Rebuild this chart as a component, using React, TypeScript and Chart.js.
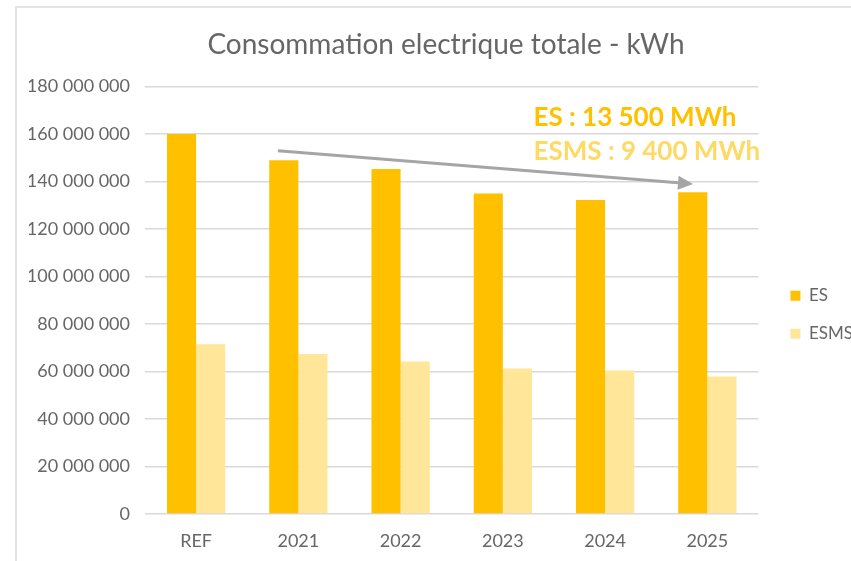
import React, { useEffect, useRef } from "react";
import { Chart, registerables } from "chart.js";

Chart.register(...registerables);

const categories = ["REF", "2021", "2022", "2023", "2024", "2025"];
const esValues = [160000000, 149000000, 145300000, 135000000, 132200000, 135500000];
const esmsValues = [71500000, 67400000, 64200000, 61300000, 60400000, 57900000];
const seriesNames = ["ES", "ESMS"];
const titleText = "Consommation electrique totale - kWh";
const yMin = 0;
const yMax = 180000000;
const yStep = 20000000;
const annotationLines = ["ES : 13 500 MWh", "ESMS : 9 400 MWh"];
const annotationX = 3.3;
const annotationY = [167000000, 152600000];
const arrowFrom = { x: 0.8, y: 153000000 };
const arrowTo = { x: 4.86, y: 139000000 };

const ES_COLOR = "#FFC000";
const ESMS_COLOR = "#FFE699";
const ESMS_TEXT = "#FFD966";
const TEXT_GRAY = "#666666";
const GRID_GRAY = "#D9D9D9";
const FONT = "Lato, 'Open Sans', sans-serif";

function fmt(v: number): string {
  return String(Math.round(v)).replace(/\B(?=(\d{3})+(?!\d))/g, " ");
}

const framePlugin = {
  id: "frame",
  beforeDraw(chart: any) {
    const ctx = chart.ctx;
    ctx.save();
    ctx.fillStyle = "#ffffff";
    ctx.fillRect(0, 0, chart.width, chart.height);
    ctx.strokeStyle = "#E3E3E3";
    ctx.lineWidth = 2;
    ctx.beginPath();
    ctx.moveTo(16, chart.height + 5);
    ctx.lineTo(16, 7);
    ctx.lineTo(chart.width + 5, 7);
    ctx.stroke();
    ctx.restore();
  },
};

const annotationPlugin = {
  id: "annot",
  afterDatasetsDraw(chart: any) {
    const ctx = chart.ctx;
    const xs = chart.scales.x;
    const ys = chart.scales.y;
    ctx.save();
    const x1 = xs.getPixelForValue(arrowFrom.x);
    const y1 = ys.getPixelForValue(arrowFrom.y);
    const x2 = xs.getPixelForValue(arrowTo.x);
    const y2 = ys.getPixelForValue(arrowTo.y);
    const ang = Math.atan2(y2 - y1, x2 - x1);
    const head = 15;
    const hw = 7;
    const bx = x2 - head * Math.cos(ang);
    const by = y2 - head * Math.sin(ang);
    ctx.strokeStyle = "#A5A5A5";
    ctx.fillStyle = "#A5A5A5";
    ctx.lineWidth = 3;
    ctx.beginPath();
    ctx.moveTo(x1, y1);
    ctx.lineTo(bx, by);
    ctx.stroke();
    ctx.beginPath();
    ctx.moveTo(x2, y2);
    ctx.lineTo(bx + hw * Math.sin(ang), by - hw * Math.cos(ang));
    ctx.lineTo(bx - hw * Math.sin(ang), by + hw * Math.cos(ang));
    ctx.closePath();
    ctx.fill();
    ctx.font = "bold 26px " + FONT;
    ctx.textAlign = "left";
    ctx.textBaseline = "middle";
    const tx = xs.getPixelForValue(annotationX);
    ctx.fillStyle = ES_COLOR;
    ctx.fillText(annotationLines[0], tx, ys.getPixelForValue(annotationY[0]));
    ctx.fillStyle = ESMS_TEXT;
    ctx.fillText(annotationLines[1], tx, ys.getPixelForValue(annotationY[1]));
    ctx.restore();
  },
};

export default function App() {
  const ref = useRef<HTMLCanvasElement | null>(null);
  useEffect(() => {
    if (!ref.current) return;
    const chart = new Chart(ref.current, {
      type: "bar",
      data: {
        labels: categories,
        datasets: [
          { label: seriesNames[0], data: esValues, backgroundColor: ES_COLOR, borderWidth: 0 },
          { label: seriesNames[1], data: esmsValues, backgroundColor: ESMS_COLOR, borderWidth: 0 },
        ],
      },
      options: {
        responsive: false,
        animation: false,
        devicePixelRatio: 1,
        layout: { padding: { left: 29, right: -12, top: 0, bottom: 0 } },
        datasets: { bar: { categoryPercentage: 0.57, barPercentage: 1.0 } },
        plugins: {
          title: {
            display: true,
            text: titleText,
            color: TEXT_GRAY,
            font: { family: FONT, size: 28, weight: "normal" },
            padding: { top: 28, bottom: 25 },
          },
          legend: {
            display: true,
            position: "right",
            align: "center",
            title: { display: true, text: " ", padding: 27, font: { size: 12 } },
            labels: {
              boxWidth: 10,
              boxHeight: 10,
              padding: 21,
              color: TEXT_GRAY,
              font: { family: FONT, size: 17 },
            },
          },
          tooltip: { enabled: false },
        },
        scales: {
          x: {
            grid: { display: false, drawTicks: false },
            border: { display: false },
            ticks: { color: TEXT_GRAY, font: { family: FONT, size: 18 }, padding: 16 },
            afterFit(s: any) {
              s.height = 47;
            },
          },
          y: {
            min: yMin,
            max: yMax,
            grid: { color: GRID_GRAY, lineWidth: 1.5, drawTicks: false },
            border: { display: false },
            ticks: {
              stepSize: yStep,
              color: TEXT_GRAY,
              font: { family: FONT, size: 18 },
              padding: 15,
              callback: (v: any) => fmt(Number(v)),
            },
            afterFit(s: any) {
              s.width = 116;
            },
          },
          gap: {
            type: "linear",
            position: "right",
            display: true,
            grid: { display: false, drawTicks: false },
            border: { display: false },
            ticks: { display: false },
            afterFit(s: any) {
              s.width = 11;
            },
          },
        },
      },
      plugins: [framePlugin, annotationPlugin],
    } as any);
    return () => chart.destroy();
  }, []);
  return (
    <div style={{ position: "fixed", left: 0, top: 0, width: 851, height: 561, overflow: "hidden", background: "#fff" }}>
      <canvas ref={ref} width={851} height={561} style={{ width: 851, height: 561, display: "block" }} />
    </div>
  );
}
